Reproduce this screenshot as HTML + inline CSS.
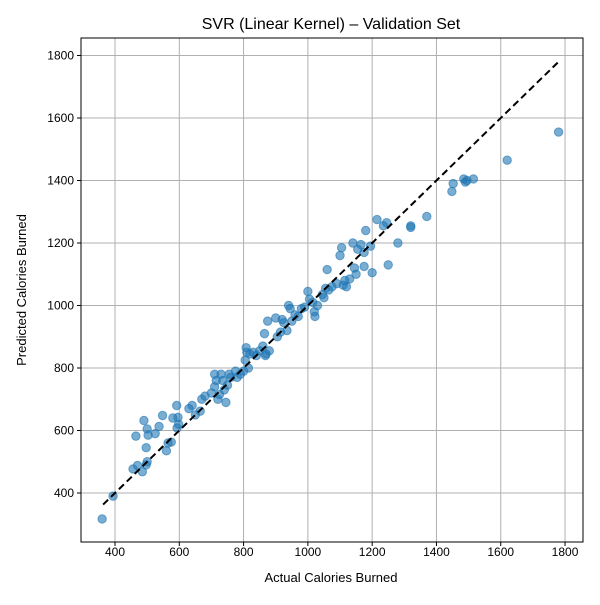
<!DOCTYPE html>
<html><head><meta charset="utf-8"><style>
body{margin:0;background:#fff;font-family:"Liberation Sans",sans-serif;}
</style></head><body>
<svg id="chart" width="600" height="600" xmlns="http://www.w3.org/2000/svg" font-family="Liberation Sans, sans-serif">
<rect width="600" height="600" fill="#fff"/>
<text x="331" y="29" text-anchor="middle" font-size="16">SVR (Linear Kernel) – Validation Set</text>
<text x="331" y="582" text-anchor="middle" font-size="13">Actual Calories Burned</text>
<text transform="translate(26,290) rotate(-90)" text-anchor="middle" font-size="13">Predicted Calories Burned</text>
<g id="grid"></g><g id="pts"></g><g id="ax"></g>
</svg>
<script>
const xTicks=[400,600,800,1000,1200,1400,1600,1800];
const yTicks=[400,600,800,1000,1200,1400,1600,1800];
const actual=[360,394,456,470,485,497,500,465,490,500,503,497,525,537,548,560,565,575,580,592,596,593,598,630,640,650,665,670,680,700,710,710,715,720,725,730,735,740,745,750,755,760,775,780,790,800,805,808,810,815,820,830,840,850,860,865,870,875,880,868,900,905,915,920,925,935,940,945,950,960,970,980,990,1000,1005,1015,1020,1022,1030,1045,1050,1055,1060,1065,1075,1090,1100,1105,1110,1115,1120,1130,1140,1145,1150,1155,1165,1175,1180,1175,1195,1200,1215,1235,1245,1250,1280,1320,1320,1370,1448,1452,1485,1490,1495,1515,1620,1780];
const predicted=[317,390,477,488,468,490,500,582,632,605,585,545,590,613,648,535,560,563,640,680,642,608,620,670,680,650,662,700,710,720,740,780,760,700,715,780,760,730,690,745,780,770,790,770,780,790,825,865,850,800,845,850,840,855,870,910,845,950,855,840,960,900,915,955,945,920,1000,990,950,970,965,990,995,1045,1020,1010,980,965,1000,1035,1025,1055,1115,1050,1060,1070,1160,1185,1065,1080,1060,1085,1200,1120,1100,1180,1195,1170,1240,1125,1190,1105,1275,1255,1265,1130,1200,1250,1255,1285,1365,1390,1405,1395,1400,1405,1465,1555];
const diag=[363,1782];
const L=81,R=583,T=38,B=542;
const X=v=>115+(v-400)*0.32145;
const Y=v=>493-(v-400)*0.3125;
const NS="http://www.w3.org/2000/svg";
function mk(tag,attrs,parent){const e=document.createElementNS(NS,tag);for(const k in attrs)e.setAttribute(k,attrs[k]);parent.appendChild(e);return e;}
const grid=document.getElementById('grid'),ax=document.getElementById('ax'),pts=document.getElementById('pts');
xTicks.forEach(t=>{const x=X(t);
 const g=mk('line',{x1:x,x2:x,y1:T,y2:B,stroke:'#b0b0b0','stroke-width':1},grid);
 
 
 mk('line',{x1:x,x2:x,y1:B,y2:B+4,stroke:'#000'},ax);
 const tx=mk('text',{x:x,y:B+14,'text-anchor':'middle','font-size':12},ax);tx.textContent=t;
 
 });
yTicks.forEach(t=>{const y=Y(t);
 const g=mk('line',{x1:L,x2:R,y1:y,y2:y,stroke:'#b0b0b0','stroke-width':1},grid);
 
 
 mk('line',{x1:L-4,x2:L,y1:y,y2:y,stroke:'#000'},ax);
 const tx=mk('text',{x:L-7,y:y+4,'text-anchor':'end','font-size':12},ax);tx.textContent=t;
 
 });
actual.forEach((a,i)=>{const c=mk('circle',{cx:X(a),cy:Y(predicted[i]),r:4.2,fill:'#1f77b4','fill-opacity':0.6,stroke:'#1f77b4','stroke-opacity':0.6,'stroke-width':1},pts);
 
 });
const d=mk('line',{x1:X(diag[0]),y1:Y(diag[0]),x2:X(diag[1]),y2:Y(diag[1]),stroke:'#000','stroke-width':2,'stroke-dasharray':'7,4'},ax);


const f=mk('rect',{x:L,y:T,width:R-L,height:B-T,fill:'none',stroke:'#000','stroke-width':1},ax);


</script>
</body></html>
